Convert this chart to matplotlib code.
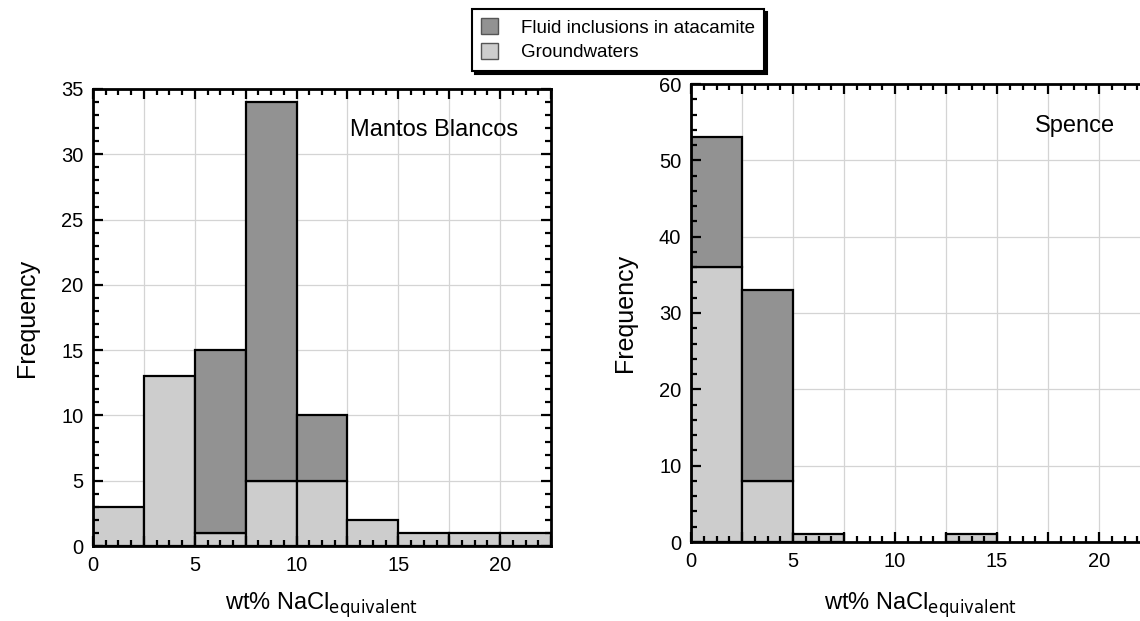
import numpy as np
import matplotlib
matplotlib.use("Agg")
import matplotlib.pyplot as plt
from matplotlib.patches import Patch
from matplotlib.ticker import MultipleLocator, FuncFormatter

plt.rcParams['font.family'] = ['Liberation Sans', 'DejaVu Sans']

# bins of 2.5 wt% NaCl eq.
bin_left = [0, 2.5, 5, 7.5, 10, 12.5, 15, 17.5, 20]
bin_width = 2.5

# Mantos Blancos
mb_ground = [3, 13, 1, 5, 5, 2, 1, 1, 1]
mb_fluid = [0, 0, 14, 29, 5, 0, 0, 0, 0]

# Spence
sp_ground = [36, 8, 1, 0, 0, 1, 0, 0, 0]
sp_fluid = [17, 25, 0, 0, 0, 0, 0, 0, 0]

dark = '#929292'
light = '#cdcdcd'

W, H = 1140, 621
fig = plt.figure(figsize=(W / 100, H / 100), dpi=100)


def make_ax(x0, x1, y0, y1):
    return fig.add_axes([x0 / W, 1 - y1 / H, (x1 - x0) / W, (y1 - y0) / H])


def xfmt(v, pos):
    if abs(v / 5 - round(v / 5)) < 1e-6:
        return '%d' % round(v)
    return ''


def draw(ax, ground, fluid, ymax, ymaj, ymin, name, name_xy, xpad):
    ground = np.array(ground)
    fluid = np.array(fluid)
    for i, x in enumerate(bin_left):
        if ground[i] > 0:
            ax.bar(x, ground[i], width=bin_width, align='edge', color=light,
                   edgecolor='black', linewidth=1.6, zorder=1)
        if fluid[i] > 0:
            ax.bar(x, fluid[i], width=bin_width, bottom=ground[i], align='edge',
                   color=dark, edgecolor='black', linewidth=1.6, zorder=1)
    ax.set_xlim(0, 22.5)
    ax.set_ylim(0, ymax)
    ax.xaxis.set_major_locator(MultipleLocator(2.5))
    ax.xaxis.set_minor_locator(MultipleLocator(0.625))
    ax.xaxis.set_major_formatter(FuncFormatter(xfmt))
    ax.yaxis.set_major_locator(MultipleLocator(ymaj))
    ax.yaxis.set_minor_locator(MultipleLocator(ymin))
    # grid behind the bars, ticks above them
    for gx in np.arange(2.5, 22.5, 2.5):
        ax.axvline(gx, color='#d4d4d4', linewidth=0.9, zorder=0.5)
    for gy in np.arange(ymaj, ymax, ymaj):
        ax.axhline(gy, color='#d4d4d4', linewidth=0.9, zorder=0.5)
    ax.set_axisbelow(False)
    ax.tick_params(which='both', direction='in', top=True, right=True,
                   labelsize=14.5, width=1.6, pad=7)
    ax.tick_params(which='major', length=7)
    ax.tick_params(which='minor', length=4.5)
    for s in ax.spines.values():
        s.set_linewidth(2)
    ax.set_ylabel('Frequency', fontsize=18, labelpad=16)
    ax.set_xlabel('wt% NaCl$_{\\mathrm{equivalent}}$', fontsize=17, labelpad=xpad)
    ax.text(name_xy[0], name_xy[1], name, transform=ax.transAxes,
            fontsize=17, ha='right', va='center')


ax1 = make_ax(93, 551, 89, 546)
draw(ax1, mb_ground, mb_fluid, 35, 5, 1, 'Mantos Blancos', (0.928, 0.91), 11)

ax2 = make_ax(691, 1150, 84, 542)
draw(ax2, sp_ground, sp_fluid, 60, 10, 2, 'Spence', (0.924, 0.908), 14)

# legend with drop shadow
handles = [Patch(facecolor=dark, edgecolor='#555555', label='Fluid inclusions in atacamite'),
           Patch(facecolor=light, edgecolor='#555555', label='Groundwaters')]
leg = fig.legend(handles=handles, loc='upper left',
                 bbox_to_anchor=(472 / W, 1 - 9 / H), fontsize=13.5,
                 frameon=True, fancybox=False, shadow={'color': 'black', 'alpha': 1},
                 handlelength=0.9, handleheight=0.9, labelspacing=0.35,
                 borderpad=0.5, handletextpad=1.2, borderaxespad=0)
leg.get_frame().set_edgecolor('black')
leg.get_frame().set_linewidth(1.5)

fig.savefig('out.png', dpi=100)
